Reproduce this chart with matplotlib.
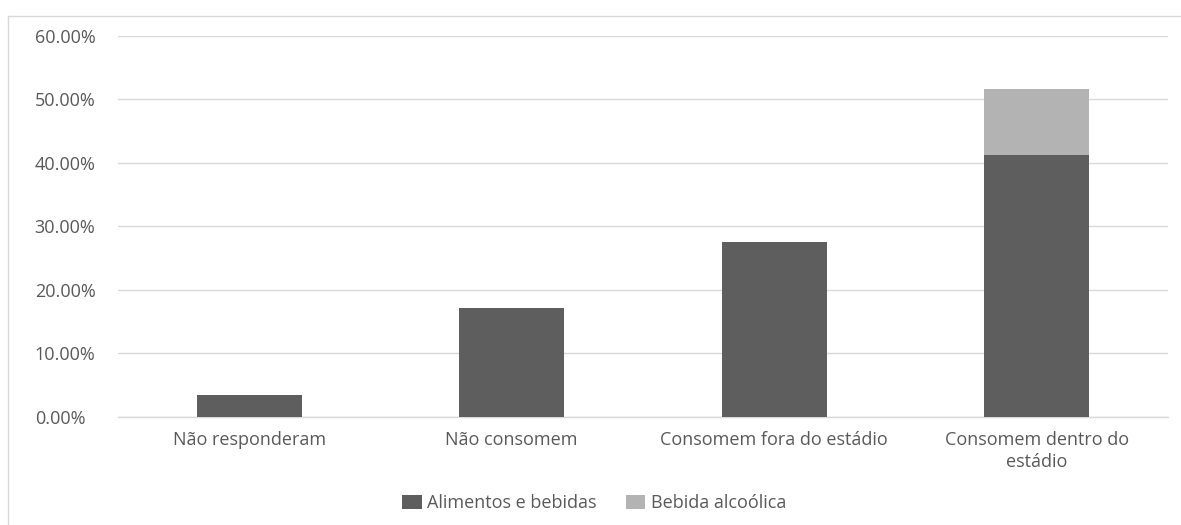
import matplotlib
matplotlib.use("Agg")
import matplotlib.pyplot as plt
from matplotlib.lines import Line2D
from matplotlib.patches import Patch
from matplotlib.ticker import PercentFormatter

categorias = [
    "Não responderam",
    "Não consomem",
    "Consomem fora do estádio",
    "Consomem dentro do\nestádio",
]
alimentos_bebidas = [0.0337, 0.172, 0.275, 0.413]
bebida_alcoolica = [0.0, 0.0, 0.0, 0.103]
ticks_y = [0.0, 0.1, 0.2, 0.3, 0.4, 0.5, 0.6]

COR_ESCURA = "#5e5e5e"
COR_CLARA = "#b3b3b3"
COR_TEXTO = "#595959"
COR_GRADE = "#d9d9d9"
TAM_FONTE = 13

plt.rcParams["font.family"] = ["Open Sans", "DejaVu Sans"]

fig = plt.figure(figsize=(11.81, 5.25), dpi=100)
ax = fig.add_axes([0.0999, 0.2063, 0.8891, 0.7251])

x = list(range(len(categorias)))
largura = 0.4
ax.bar(x, alimentos_bebidas, largura, color=COR_ESCURA, zorder=3)
ax.bar(x, bebida_alcoolica, largura, bottom=alimentos_bebidas,
       color=COR_CLARA, zorder=3)

ax.set_xlim(-0.5, len(categorias) - 0.5)
ax.set_ylim(0, 0.6)
ax.set_yticks(ticks_y)
ax.yaxis.set_major_formatter(PercentFormatter(1.0, decimals=2))
ax.set_xticks(x)
ax.set_xticklabels(categorias, fontsize=TAM_FONTE, color=COR_TEXTO,
                   linespacing=1.35)

for lbl in ax.get_yticklabels():
    lbl.set_horizontalalignment("left")
ax.tick_params(axis="y", length=0, pad=60, labelsize=TAM_FONTE,
               labelcolor=COR_TEXTO)
ax.tick_params(axis="x", length=0, pad=10)

ax.grid(axis="y", color=COR_GRADE, linewidth=1.0, zorder=0)
# linha de base em 0% (a grade nessa posição fica cortada pela borda do eixo)
ax.axhline(0, color=COR_GRADE, linewidth=1.0, zorder=1, clip_on=False)
for lado in ["top", "right", "left", "bottom"]:
    ax.spines[lado].set_visible(False)

# moldura do gráfico (só a borda de cima e a da esquerda)
fig.add_artist(Line2D([8 / 1181, 1.0], [1 - 16 / 525, 1 - 16 / 525],
                      color="#d9d9d9", linewidth=1.0))
fig.add_artist(Line2D([8 / 1181, 8 / 1181], [0.0, 1 - 16 / 525],
                      color="#d9d9d9", linewidth=1.0))

handles = [
    Patch(facecolor=COR_ESCURA, label="Alimentos e bebidas"),
    Patch(facecolor=COR_CLARA, label="Bebida alcoólica"),
]
fig.legend(handles=handles, loc="center", bbox_to_anchor=(594 / 1181, 1 - 503 / 525),
           ncol=2, frameon=False, fontsize=TAM_FONTE, labelcolor=COR_TEXTO,
           handlelength=1.1, handleheight=0.8, handletextpad=0.3,
           columnspacing=1.6)

fig.savefig("out.png", dpi=100)
